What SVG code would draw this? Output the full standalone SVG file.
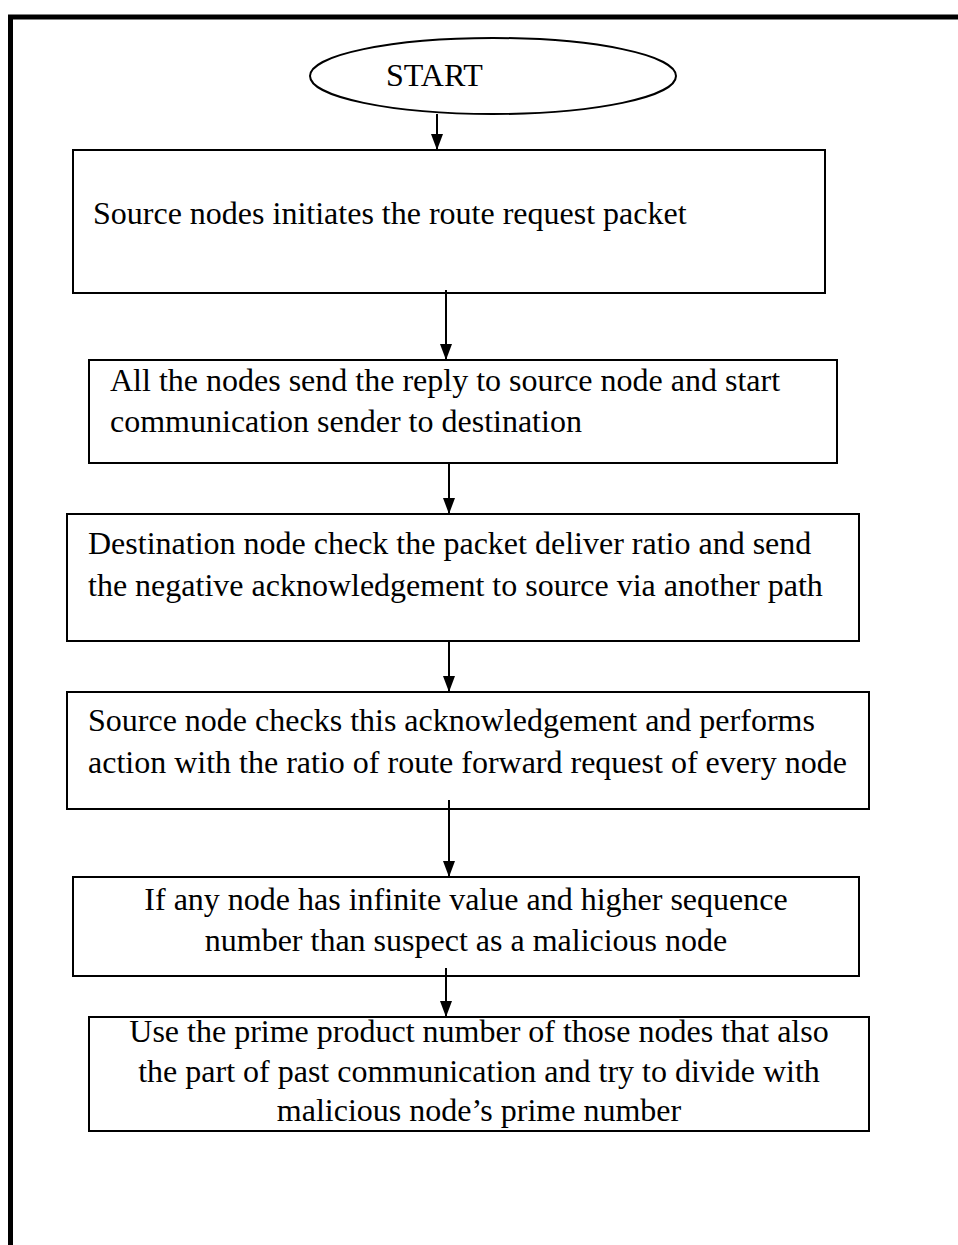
<svg xmlns="http://www.w3.org/2000/svg" width="958" height="1245" viewBox="0 0 958 1245">
<style>
.box{fill:#fff;stroke:#000;stroke-width:2}
.t{font-family:"Liberation Serif","Times New Roman",serif;font-size:32px;fill:#000}
.c{text-anchor:middle}
.ln{stroke:#000;stroke-width:2;fill:none}
.hd{fill:#000}
</style>
<rect width="958" height="1245" fill="#fff"/>
<path d="M10.5,1245 V17 H958" fill="none" stroke="#000" stroke-width="5"/>
<g id="start">
<ellipse cx="493" cy="76" rx="183" ry="38" fill="#fff" stroke="#000" stroke-width="2"/>
<text class="t" x="386" y="86">START</text>
</g>
<g id="n1">
<rect class="box" x="73" y="150" width="752" height="143"/>
<text class="t" x="93" y="224">Source nodes initiates the route request packet</text>
</g>
<g id="n2">
<rect class="box" x="89" y="360" width="748" height="103"/>
<text class="t" x="110" y="391">All the nodes send the reply to source node and start</text>
<text class="t" x="110" y="432">communication sender to destination</text>
</g>
<g id="n3">
<rect class="box" x="67" y="514" width="792" height="127"/>
<text class="t" x="88" y="554">Destination node check the packet deliver ratio and send</text>
<text class="t" x="88" y="596">the negative acknowledgement to source via another path</text>
</g>
<g id="n4">
<rect class="box" x="67" y="692" width="802" height="117"/>
<text class="t" x="88" y="731">Source node checks this acknowledgement and performs</text>
<text class="t" x="88" y="773">action with the ratio of route forward request of every node</text>
</g>
<g id="n5">
<rect class="box" x="73" y="877" width="786" height="99"/>
<text class="t c" x="466" y="910">If any node has infinite value and higher sequence</text>
<text class="t c" x="466" y="951">number than suspect as a malicious node</text>
</g>
<g id="n6">
<rect class="box" x="89" y="1017" width="780" height="114"/>
<text class="t c" x="479" y="1042">Use the prime product number of those nodes that also</text>
<text class="t c" x="479" y="1082">the part of past communication and try to divide with</text>
<text class="t c" x="479" y="1121">malicious node’s prime number</text>
</g>
<g id="connectors">
<path class="ln" d="M437,114 V150"/>
<path class="hd" d="M431,134 L443,134 L437,150 Z"/>
<path class="ln" d="M446,290 V360"/>
<path class="hd" d="M440,344 L452,344 L446,360 Z"/>
<path class="ln" d="M449,463 V514"/>
<path class="hd" d="M443,498 L455,498 L449,514 Z"/>
<path class="ln" d="M449,641 V692"/>
<path class="hd" d="M443,676 L455,676 L449,692 Z"/>
<path class="ln" d="M449,800 V877"/>
<path class="hd" d="M443,861 L455,861 L449,877 Z"/>
<path class="ln" d="M446,968 V1017"/>
<path class="hd" d="M440,1001 L452,1001 L446,1017 Z"/>
</g>
</svg>
